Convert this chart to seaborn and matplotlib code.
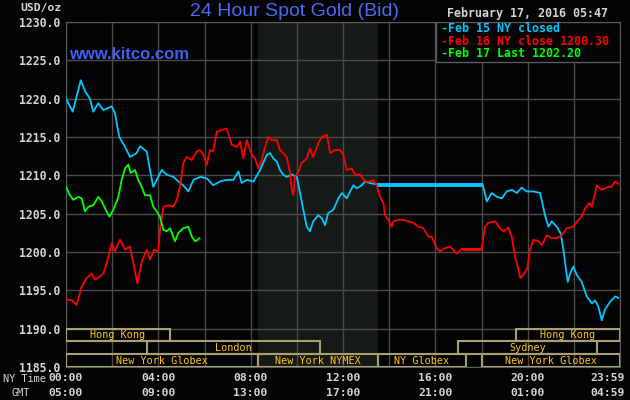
import matplotlib
matplotlib.use("Agg")
import matplotlib.pyplot as plt
import matplotlib.transforms as mtransforms
import numpy as np
import pandas as pd
import seaborn as sns
from matplotlib.patches import Rectangle

# hours since 00:00 NY time, spot bid in USD/oz
feb15_hours = [0.0, 0.29, 0.64, 0.82, 1.04, 1.18, 1.40, 1.62, 1.98, 2.12, 2.31, 2.56, 2.77, 3.06,
               3.21, 3.50, 3.64, 3.78, 3.93, 4.15, 4.36, 4.65, 4.87, 5.08, 5.30, 5.52, 5.81, 6.10,
               6.38, 6.67, 6.96, 7.25, 7.47, 7.61, 7.83, 8.12, 8.41, 8.70, 8.84, 8.98, 9.13, 9.27,
               9.41, 9.56, 9.78, 10.00, 10.14, 10.28, 10.43, 10.57, 10.71, 10.93, 11.08, 11.22,
               11.36, 11.58, 11.80, 11.95, 12.16, 12.31, 12.45, 12.60, 12.81, 12.96, 13.17, 13.46,
               18.05, 18.23, 18.44, 18.66, 18.88, 19.09, 19.31, 19.53, 19.74, 19.96, 20.25, 20.54,
               20.75, 20.90, 21.04, 21.26, 21.43, 21.55, 21.66, 21.74, 21.84, 21.98, 22.13, 22.34,
               22.56, 22.78, 22.92, 23.06, 23.21, 23.35, 23.57, 23.79, 23.93]
feb15_price = [1220.0, 1218.3, 1222.4, 1221.0, 1220.0, 1218.3, 1219.4, 1218.5, 1219.0, 1218.1,
               1215.0, 1213.7, 1212.4, 1212.9, 1213.8, 1213.1, 1210.7, 1208.5, 1209.4, 1210.7,
               1210.1, 1209.8, 1209.2, 1208.7, 1207.9, 1209.4, 1209.8, 1209.6, 1208.7, 1209.2,
               1209.4, 1209.4, 1210.5, 1209.0, 1209.4, 1209.2, 1210.7, 1212.7, 1212.9, 1212.2,
               1211.8, 1210.7, 1210.1, 1209.8, 1210.1, 1209.8, 1207.7, 1205.5, 1203.3, 1202.7,
               1204.0, 1204.8, 1204.4, 1203.5, 1205.1, 1205.5, 1207.0, 1207.7, 1207.0, 1207.9,
               1208.7, 1208.3, 1208.7, 1209.2, 1209.0, 1208.8,
               1208.8, 1206.6, 1207.7, 1207.2, 1207.0, 1207.9, 1208.1, 1207.7, 1208.4, 1207.9,
               1207.9, 1207.7, 1204.8, 1203.3, 1204.0, 1203.3, 1202.4, 1200.3, 1197.7, 1196.1,
               1197.2, 1198.1, 1197.0, 1196.1, 1194.2, 1193.3, 1193.7, 1192.9, 1191.1, 1192.5,
               1193.5, 1194.2, 1194.0]

feb16_hours = [0.0, 0.25, 0.46, 0.68, 0.90, 1.11, 1.26, 1.47, 1.62, 1.76, 1.98, 2.12, 2.34, 2.56,
               2.77, 2.92, 3.09, 3.28, 3.50, 3.64, 3.81, 4.00, 4.07, 4.22, 4.43, 4.65, 4.80, 4.94,
               5.08, 5.23, 5.45, 5.66, 5.81, 5.95, 6.10, 6.24, 6.38, 6.53, 6.75, 6.96, 7.18, 7.40,
               7.54, 7.68, 7.83, 8.05, 8.19, 8.33, 8.48, 8.62, 8.77, 8.91, 9.13, 9.27, 9.41, 9.56,
               9.71, 9.78, 9.85, 9.92, 10.07, 10.21, 10.43, 10.57, 10.71, 10.93, 11.08, 11.30,
               11.44, 11.66, 11.87, 12.01, 12.16, 12.38, 12.52, 12.74, 12.96, 13.17, 13.31, 13.46,
               13.60, 13.75, 13.82, 13.96, 14.11, 14.18, 14.40, 14.61, 14.83, 15.05, 15.26, 15.48,
               15.70, 15.84, 16.06, 16.20, 16.42, 16.64, 16.93, 17.14, 18.01, 18.15, 18.30, 18.59,
               18.80, 18.95, 19.16, 19.31, 19.45, 19.60, 19.67, 19.81, 19.99, 20.10, 20.25, 20.46,
               20.61, 20.83, 21.04, 21.26, 21.48, 21.69, 21.98, 22.20, 22.34, 22.49, 22.67, 22.78,
               22.92, 22.99, 23.21, 23.35, 23.50, 23.64, 23.79, 23.93]
feb16_price = [1193.8, 1193.7, 1193.1, 1195.5, 1196.6, 1197.2, 1196.4, 1196.8, 1197.2, 1198.5,
               1201.1, 1200.1, 1201.6, 1200.3, 1200.7, 1198.5, 1195.9, 1198.7, 1200.3, 1199.0,
               1200.3, 1200.1, 1202.9, 1205.9, 1206.1, 1205.9, 1206.8, 1208.5, 1211.6, 1212.4,
               1212.0, 1213.1, 1213.3, 1212.7, 1211.4, 1213.3, 1213.1, 1215.7, 1215.9, 1216.1,
               1214.0, 1213.7, 1214.4, 1212.2, 1214.6, 1212.7, 1212.2, 1210.9, 1212.0, 1213.7,
               1215.0, 1214.6, 1214.6, 1213.3, 1212.9, 1212.4, 1210.3, 1208.1, 1207.4, 1209.8,
               1210.5, 1211.6, 1212.2, 1213.5, 1212.4, 1214.2, 1215.0, 1215.3, 1212.9, 1213.3,
               1213.3, 1212.7, 1210.7, 1210.9, 1210.1, 1210.1, 1209.2, 1209.2, 1209.4, 1208.7,
               1207.2, 1206.4, 1204.8, 1204.2, 1203.3, 1204.0, 1204.2, 1204.2, 1204.0, 1203.8,
               1203.3, 1203.1, 1202.0, 1202.0, 1200.5, 1200.1, 1200.5, 1200.7, 1199.8, 1200.4,
               1200.4, 1203.3, 1203.8, 1204.0, 1203.1, 1202.7, 1203.2, 1202.0, 1199.4, 1197.7,
               1196.6, 1197.0, 1197.9, 1200.3, 1201.6, 1201.4, 1200.9, 1202.2, 1201.8, 1201.8,
               1202.2, 1203.1, 1203.3, 1204.2, 1204.6, 1205.7, 1206.4, 1205.9, 1207.7, 1208.7,
               1208.1, 1208.3, 1208.5, 1208.5, 1209.2, 1208.9]

feb17_hours = [0.0, 0.17, 0.32, 0.53, 0.68, 0.82, 0.97, 1.18, 1.40, 1.55, 1.69, 1.88, 2.05, 2.27,
               2.41, 2.56, 2.70, 2.80, 2.99, 3.13, 3.28, 3.42, 3.64, 3.78, 3.93, 4.07, 4.22, 4.36,
               4.51, 4.72, 4.87, 5.08, 5.30, 5.45, 5.59, 5.71, 5.78]
feb17_price = [1208.5, 1207.4, 1206.8, 1207.2, 1207.0, 1205.3, 1205.9, 1206.1, 1207.2, 1206.6,
               1205.7, 1204.6, 1205.5, 1207.2, 1209.4, 1210.9, 1211.4, 1210.3, 1210.7, 1209.4,
               1208.5, 1207.4, 1207.4, 1205.9, 1205.3, 1204.6, 1202.9, 1202.7, 1203.1, 1201.4,
               1202.5, 1203.1, 1203.3, 1202.0, 1201.4, 1201.6, 1201.8]

legend_labels = ["Feb 15 NY closed", "Feb 16 NY close 1200.30", "Feb 17 Last 1202.20"]

ny_ticks = [0, 4, 8, 12, 16, 20, 24]
ny_labels = ["00:00", "04:00", "08:00", "12:00", "16:00", "20:00", "23:59"]
gmt_labels = ["05:00", "09:00", "13:00", "17:00", "21:00", "01:00", "04:59"]

session_names = ["Hong Kong", "London", "New York Globex", "New York NYMEX", "NY Globex",
                 "Hong Kong", "Sydney", "New York Globex"]
session_start = [0.0, 3.5, 0.0, 8.33, 13.5, 19.5, 17.0, 18.0]
session_end = [4.5, 11.0, 8.33, 13.5, 17.33, 24.0, 23.0, 24.0]
session_row = [0, 1, 2, 2, 2, 0, 1, 2]

nymex_open, nymex_close = 8.33, 13.5

BG = "#040406"
GRID = "#4a4a4a"
TXT = "#d4d4d4"
MONO = "DejaVu Sans Mono"
colors = ["#00c8ff", "#ff0000", "#00ff00"]

fig = plt.figure(figsize=(6.3, 4), dpi=100, facecolor=BG)
ax = fig.add_axes([66 / 630, 1 - 367 / 400, 554 / 630, 345 / 400], facecolor=BG)

ax.set_xlim(0, 24)
ax.set_ylim(1185, 1230)
ax.axvspan(nymex_open, nymex_close, color="#161a16", zorder=0, lw=0)

ax.set_xticks(np.arange(0, 25, 2))
ax.set_yticks(np.arange(1185, 1231, 5))
ax.grid(True, color=GRID, lw=1)
ax.set_axisbelow(True)
ax.tick_params(axis="x", length=0, labelbottom=False)
ax.tick_params(axis="y", length=0, pad=4, labelcolor=TXT, labelsize=8.3)
ax.set_yticklabels([f"{v:.1f}" for v in np.arange(1185, 1231, 5)], family=MONO, weight="bold")
for s in ax.spines.values():
    s.set_color("#5a5a5a")

series = [(feb15_hours, feb15_price), (feb16_hours, feb16_price), (feb17_hours, feb17_price)]
for (h, p), c in zip(series, colors):
    df = pd.DataFrame({"hour": h, "price": p})
    sns.lineplot(data=df, x="hour", y="price", color=c, lw=1.3, ax=ax,
                 estimator=None, sort=False, zorder=3)
    # long flat stretches while the market was shut are drawn heavier
    for i in range(len(h) - 1):
        if p[i] == p[i + 1] and h[i + 1] - h[i] > 0.5:
            ax.plot(h[i:i + 2], p[i:i + 2], color=c, lw=2.8 if c == colors[0] else 2.0,
                    solid_capstyle="butt", zorder=3)
ax.set_xlabel("")
ax.set_ylabel("")

# session boxes
row_h = 5 / 3
for name, a, b, r in zip(session_names, session_start, session_end, session_row):
    y0 = 1190 - (r + 1) * row_h
    ax.add_patch(Rectangle((a, y0), b - a, row_h, fill=False, ec="#a8a070", lw=1.5, zorder=4))
    ax.text((a + b) / 2, y0 + row_h / 2, name, ha="center", va="center", color="#ffc41a",
            family=MONO, fontsize=7.3, zorder=5)

# x labels, two rows
tr = mtransforms.blended_transform_factory(ax.transData, ax.transAxes)
for t, ny, gmt in zip(ny_ticks, ny_labels, gmt_labels):
    ha = "right" if t == 24 else "center"
    xx = t + 0.2 if t == 24 else t
    ax.text(xx, -0.032, ny, transform=tr, ha=ha, va="center", color=TXT, family=MONO,
            weight="bold", fontsize=8.2)
    ax.text(xx, -0.075, gmt, transform=tr, ha=ha, va="center", color=TXT, family=MONO,
            weight="bold", fontsize=8.2)
fig.text(24 / 630, 1 - 379 / 400, "NY Time", ha="center", va="center", color=TXT,
         family=MONO, fontsize=7.4)
fig.text(21 / 630, 1 - 393 / 400, "GMT", ha="center", va="center", color=TXT,
         family=MONO, fontsize=7.4)

# header texts
fig.text(62 / 630, 1 - 8 / 400, "USD/oz", ha="right", va="center", color=TXT,
         family=MONO, weight="bold", fontsize=8.2)
fig.text(294 / 630, 1 - 11 / 400, "24 Hour Spot Gold (Bid)", ha="center", va="center",
         color="#4a6af0", family="Liberation Sans", fontsize=14)
fig.text(608 / 630, 1 - 14 / 400, "February 17, 2016 05:47", ha="right", va="center",
         color=TXT, family=MONO, weight="bold", fontsize=8.4)
ax.text(0.005, 0.905, "www.kitco.com", transform=ax.transAxes, ha="left", va="center",
        color="#4060f0", family="Liberation Sans", weight="bold", fontsize=12, zorder=6)

# legend box
ax.add_patch(Rectangle((0.668, 0.884), 0.332, 0.116, transform=ax.transAxes, fc=BG,
                       ec="#5a5a5a", lw=1, zorder=6))
for i, (lab, c) in enumerate(zip(legend_labels, colors)):
    ax.text(0.677, 0.98 - i * 0.036, "-" + lab, transform=ax.transAxes, ha="left",
            va="center", color=c, family=MONO, weight="bold", fontsize=8.4, zorder=7)

plt.savefig("out.png", dpi=100, facecolor=BG)
